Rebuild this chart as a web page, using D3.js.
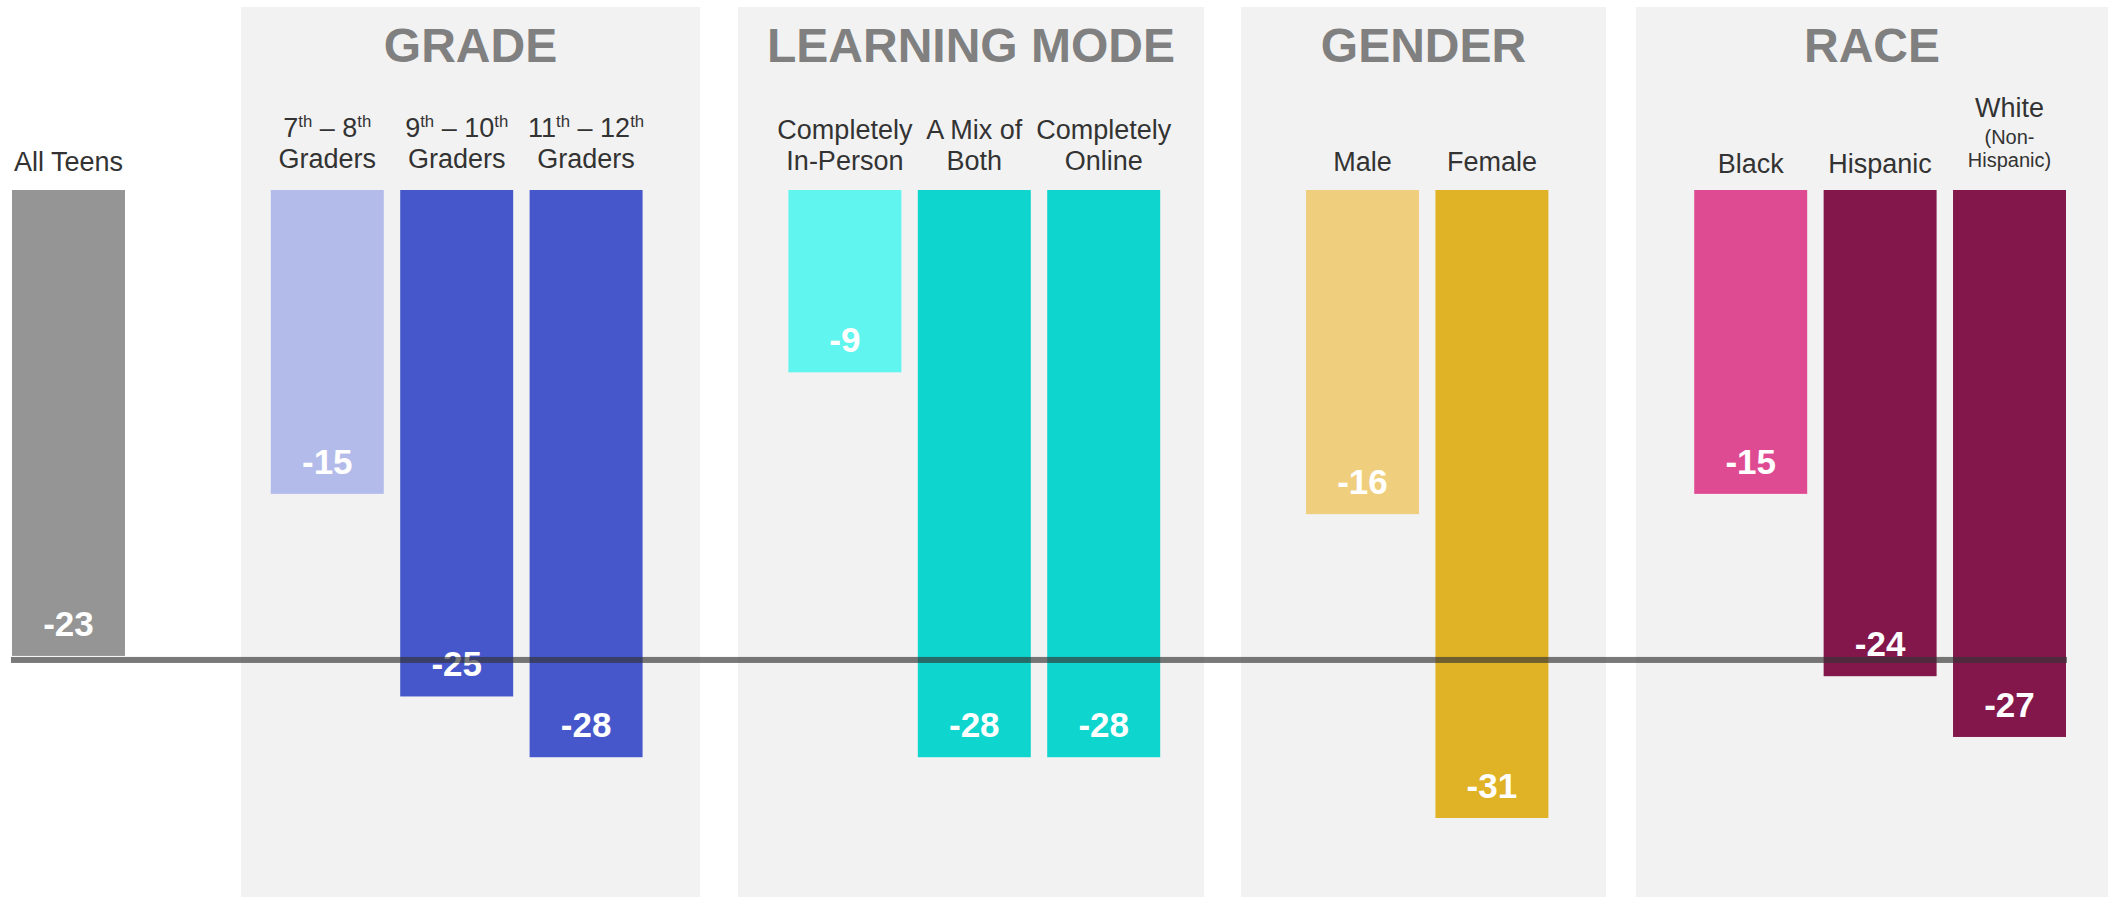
<!DOCTYPE html>
<html>
<head>
<meta charset="utf-8">
<script src="https://cdn.jsdelivr.net/npm/d3@7"></script>
<style>
  html, body { margin: 0; padding: 0; background: #fff; }
  svg { display: block; font-family: "Liberation Sans", Arial, sans-serif; }
</style>
</head>
<body>
<svg id="chart"></svg>
<script>
// chart data
const groups = ["GRADE", "LEARNING MODE", "GENDER", "RACE"];
const categories = ["All Teens", "7th-8th", "9th-10th", "11th-12th", "In-Person", "Mix", "Online", "Male", "Female", "Black", "Hispanic", "White"];
const values = [-23, -15, -25, -28, -9, -28, -28, -16, -31, -15, -24, -27];
const categoryGroup = [-1, 0, 0, 0, 1, 1, 1, 2, 2, 3, 3, 3];
// label lines: "^" marks a superscript run, a leading "_" marks a small line
const labelLines = [
  ["All Teens"],
  ["7^th^ – 8^th^", "Graders"],
  ["9^th^ – 10^th^", "Graders"],
  ["11^th^ – 12^th^", "Graders"],
  ["Completely", "In-Person"],
  ["A Mix of", "Both"],
  ["Completely", "Online"],
  ["Male"],
  ["Female"],
  ["Black"],
  ["Hispanic"],
  ["White", "_(Non-", "_Hispanic)"]
];
const average = -23;
const colors = ["#959595", "#b3bbea", "#4657cc", "#4657cc", "#60f5ee", "#0ed6ce", "#0ed6ce", "#efcf7d", "#e0b225", "#df4b93", "#83174c", "#83174c"];

const width = 2111, height = 897;
const svg = d3.select("#chart").attr("width", width).attr("height", height);

// slot index of each bar (gaps between groups are empty slots)
const slots = [0, 2, 3, 4, 6, 7, 8, 10, 11, 13, 14, 15];
const x = d3.scaleBand().domain(d3.range(16)).range([12, 2066]).paddingInner(0.127).paddingOuter(0);
const y = d3.scaleLinear().domain([0, -31]).range([190, 818]);

// group panels
const panelX = [[241, 700], [738, 1204], [1241, 1606], [1636, 2108]];
const panel = svg.append("g").selectAll("g").data(groups).join("g");
panel.append("rect")
  .attr("x", (d, i) => panelX[i][0])
  .attr("y", 7)
  .attr("width", (d, i) => panelX[i][1] - panelX[i][0])
  .attr("height", height - 7)
  .attr("fill", "#f2f2f2");
panel.append("text")
  .attr("x", (d, i) => (panelX[i][0] + panelX[i][1]) / 2)
  .attr("y", 62)
  .attr("text-anchor", "middle")
  .attr("font-size", 48)
  .attr("font-weight", "bold")
  .attr("fill", "#808080")
  .text(d => d);

// bars
const bars = svg.append("g").selectAll("g").data(categories).join("g");
bars.append("rect")
  .attr("x", (d, i) => x(slots[i]))
  .attr("y", y(0))
  .attr("width", x.bandwidth())
  .attr("height", (d, i) => y(values[i]) - y(0))
  .attr("fill", (d, i) => colors[i]);

// category labels, stacked upward from the bottom baseline
const labelBase = { "-1": 171, 0: 168, 1: 170, 2: 171, 3: 173 };
bars.each(function(d, i) {
  const g = d3.select(this);
  const cx = x(slots[i]) + x.bandwidth() / 2;
  const lines = labelLines.at(i);
  const sizeOf = s => s.startsWith("_") ? 20 : 27;
  let base = labelLines[i].length === 3 ? 167 : labelBase[categoryGroup[i]];
  for (let k = lines.length - 1; k >= 0; k--) {
    const size = sizeOf(lines[k]);
    const line = lines[k].replace(/^_/, "");
    const t = g.append("text")
      .attr("x", cx)
      .attr("y", base)
      .attr("text-anchor", "middle")
      .attr("font-size", size)
      .attr("fill", "#333333");
    line.split("^").forEach((part, j) => {
      if (!part) return;
      const sup = j % 2 === 1;
      t.append("tspan")
        .attr("font-size", sup ? size * 0.62 : size)
        .attr("dy", sup ? -size * 0.36 : (j > 0 ? size * 0.36 : 0))
        .text(part);
    });
    if (k > 0) base -= Math.round((size + sizeOf(lines[k - 1])) / 2 * 1.15);
  }
});

// value labels
bars.append("text")
  .attr("x", (d, i) => x(slots[i]) + x.bandwidth() / 2)
  .attr("y", (d, i) => y(values[i]) - 20)
  .attr("text-anchor", "middle")
  .attr("font-size", 35)
  .attr("font-weight", "bold")
  .attr("fill", "#ffffff")
  .text((d, i) => values[i]);

// average line across all bars
svg.append("rect")
  .attr("x", 11)
  .attr("y", y(average) + 1)
  .attr("width", 2056)
  .attr("height", 6)
  .attr("fill", "#333333")
  .attr("opacity", 0.66);
</script>
</body>
</html>
